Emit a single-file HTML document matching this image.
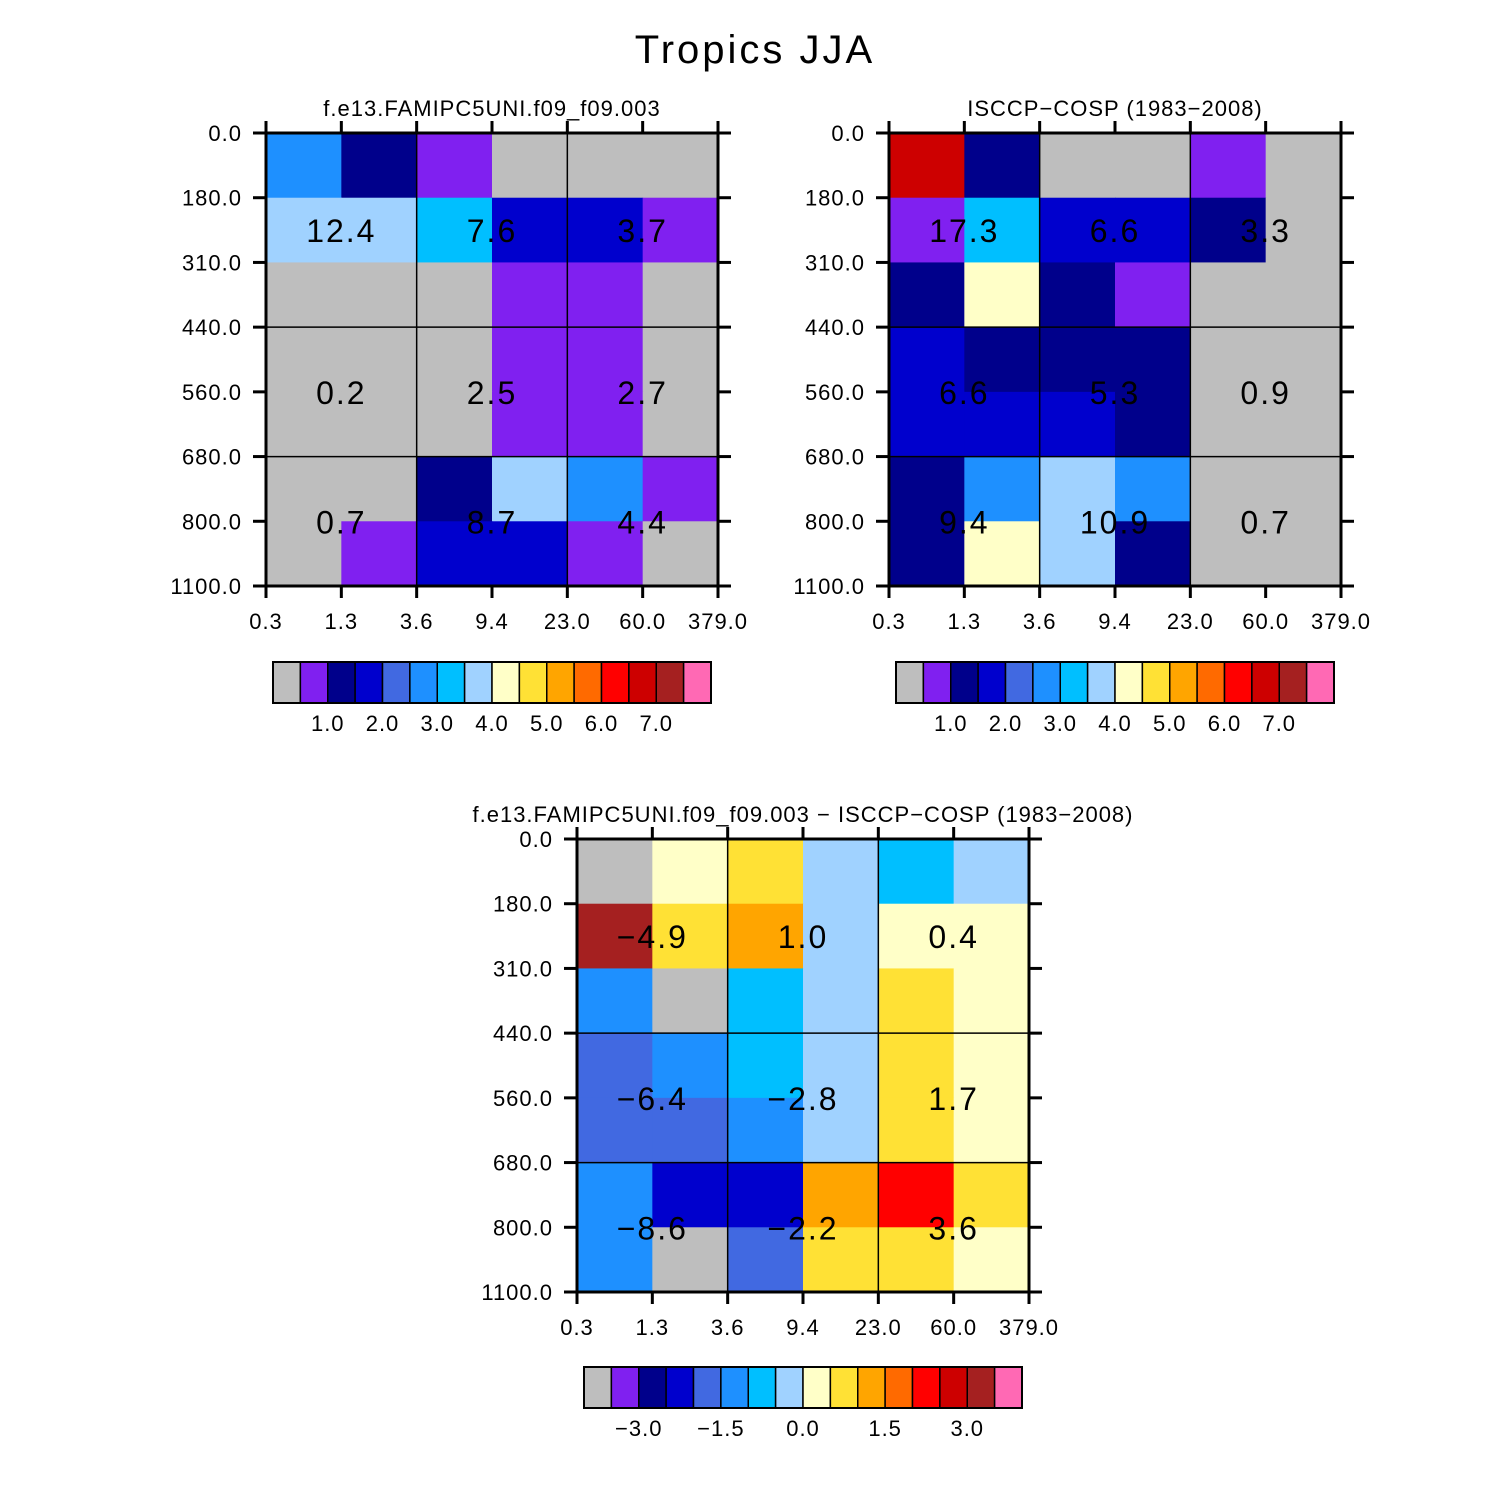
<!DOCTYPE html>
<html><head><meta charset="utf-8">
<style>
html,body{margin:0;padding:0;background:#fff;}
svg{display:block;font-family:"Liberation Sans",sans-serif;}
</style></head>
<body>
<svg id="fig" width="1510" height="1510" viewBox="0 0 1510 1510" xmlns="http://www.w3.org/2000/svg">
<rect width="1510" height="1510" fill="#fff"/>
<text x="755" y="63" font-size="40" letter-spacing="3" text-anchor="middle" fill="#000">Tropics JJA</text>
</svg>
<script>
// palette (16 colour-table entries)
const palette = ["#bebebe","#8020f0","#00008b","#0000cd","#4169e1","#1e90ff","#00bfff","#a0d2ff","#ffffc8","#ffe135","#ffa500","#ff6a00","#ff0000","#cd0000","#a52020","#ff69b4"];
const xTickLabels = ["0.3","1.3","3.6","9.4","23.0","60.0","379.0"];
const yTickLabels = ["0.0","180.0","310.0","440.0","560.0","680.0","800.0","1100.0"];
// colour index grids, rows top (0 hPa) to bottom (1100 hPa)
const modelGrid = [
 [5,2,1,0,0,0],
 [7,7,6,3,3,1],
 [0,0,0,1,1,0],
 [0,0,0,1,1,0],
 [0,0,0,1,1,0],
 [0,0,2,7,5,1],
 [0,1,3,3,1,0]];
const obsGrid = [
 [13,2,0,0,1,0],
 [1,6,3,3,2,0],
 [2,8,2,1,0,0],
 [3,2,2,2,0,0],
 [3,3,3,2,0,0],
 [2,5,7,5,0,0],
 [2,8,7,2,0,0]];
const diffGrid = [
 [0,8,9,7,6,7],
 [14,9,10,7,8,8],
 [5,0,6,7,9,8],
 [4,5,6,7,9,8],
 [4,4,5,7,9,8],
 [5,3,3,10,12,9],
 [5,0,4,9,9,8]];
// 3x3 aggregated values (rows: high, mid, low; cols: thin, medium, thick)
const modelValues = [["12.4","7.6","3.7"],["0.2","2.5","2.7"],["0.7","8.7","4.4"]];
const obsValues = [["17.3","6.6","3.3"],["6.6","5.3","0.9"],["9.4","10.9","0.7"]];
const diffValues = [["\u22124.9","1.0","0.4"],["\u22126.4","\u22122.8","1.7"],["\u22128.6","\u22122.2","3.6"]];
const cbarLabelsAbs = ["1.0","2.0","3.0","4.0","5.0","6.0","7.0"];
const cbarPosAbs = [2,4,6,8,10,12,14];
const cbarLabelsDiff = ["\u22123.0","\u22121.5","0.0","1.5","3.0"];
const cbarPosDiff = [2,5,8,11,14];

const NS="http://www.w3.org/2000/svg";
const svg=document.getElementById('fig');
function mk(tag,attrs,parent){const e=document.createElementNS(NS,tag);for(const k in attrs)e.setAttribute(k,attrs[k]);(parent||svg).appendChild(e);return e;}

function panel(name,x0,y0,title,grid,values,cbx,cby,cbLabels,cbPos){
  const W=452,H=453;
  const g=mk('g',{});
  
  
  const nc=6,nr=7;
  const xs=i=>x0+W*i/nc, ys=j=>y0+H*j/nr;
  for(let r=0;r<nr;r++)for(let c=0;c<nc;c++){
    const rc=mk('rect',{x:xs(c),y:ys(r),width:xs(c+1)-xs(c)+0.5,height:ys(r+1)-ys(r)+0.5,fill:palette[grid[r][c]]},g);
    
    
  }
  [2,4].forEach(i=>mk('line',{x1:xs(i),x2:xs(i),y1:y0,y2:y0+H,stroke:'#000','stroke-width':1.5},g));
  [3,5].forEach(j=>mk('line',{x1:x0,x2:x0+W,y1:ys(j),y2:ys(j),stroke:'#000','stroke-width':1.5},g));
  const vy=[(ys(1)+ys(2))/2,(ys(3)+ys(5))/2,(ys(5)+ys(7))/2];
  for(let r=0;r<3;r++)for(let c=0;c<3;c++){
    const t=mk('text',{x:xs(2*c+1),y:vy[r]+12,'font-size':32,'letter-spacing':2,'text-anchor':'middle',fill:'#000'},g);
    t.textContent=values[r][c];
    
    
  }
  mk('rect',{x:x0,y:y0,width:W,height:H,fill:'none',stroke:'#000','stroke-width':3},g);
  for(let i=0;i<=nc;i++){
    mk('line',{x1:xs(i),x2:xs(i),y1:y0,y2:y0-12,stroke:'#000','stroke-width':3},g);
    mk('line',{x1:xs(i),x2:xs(i),y1:y0+H,y2:y0+H+12,stroke:'#000','stroke-width':3},g);
    const t=mk('text',{x:xs(i),y:y0+H+43,'font-size':22,'letter-spacing':1,'text-anchor':'middle',fill:'#000'},g);
    t.textContent=xTickLabels[i];
    
    
  }
  for(let j=0;j<=nr;j++){
    mk('line',{x1:x0,x2:x0-13,y1:ys(j),y2:ys(j),stroke:'#000','stroke-width':3},g);
    mk('line',{x1:x0+W,x2:x0+W+13,y1:ys(j),y2:ys(j),stroke:'#000','stroke-width':3},g);
    const t=mk('text',{x:x0-24,y:ys(j)+8,'font-size':22,'letter-spacing':1,'text-anchor':'end',fill:'#000'},g);
    t.textContent=yTickLabels[j];
    
    
  }
  const tt=mk('text',{x:x0+W/2,y:y0-17,'font-size':22,'letter-spacing':1,'text-anchor':'middle',fill:'#000'},g);
  tt.textContent=title;
  
  
  const cw=438/16;
  const cb=mk('g',{},g);
  
  
  for(let k=0;k<16;k++){
    const b=mk('rect',{x:cbx+k*cw,y:cby,width:cw,height:41,fill:palette[k],stroke:'#000','stroke-width':1.5},cb);
    
    
  }
  mk('rect',{x:cbx,y:cby,width:438,height:41,fill:'none',stroke:'#000','stroke-width':2},cb);
  for(let k=0;k<cbLabels.length;k++){
    const t=mk('text',{x:cbx+cbPos[k]*cw,y:cby+69,'font-size':22,'letter-spacing':1,'text-anchor':'middle',fill:'#000'},cb);
    t.textContent=cbLabels[k];
    
    
  }
}
panel('model-panel',266,133,'f.e13.FAMIPC5UNI.f09_f09.003',modelGrid,modelValues,273,662,cbarLabelsAbs,cbarPosAbs);
panel('obs-panel',889,133,'ISCCP\u2212COSP (1983\u22122008)',obsGrid,obsValues,896,662,cbarLabelsAbs,cbarPosAbs);
panel('diff-panel',577,839,'f.e13.FAMIPC5UNI.f09_f09.003 \u2212 ISCCP\u2212COSP (1983\u22122008)',diffGrid,diffValues,584,1367,cbarLabelsDiff,cbarPosDiff);
</script>
</body></html>
